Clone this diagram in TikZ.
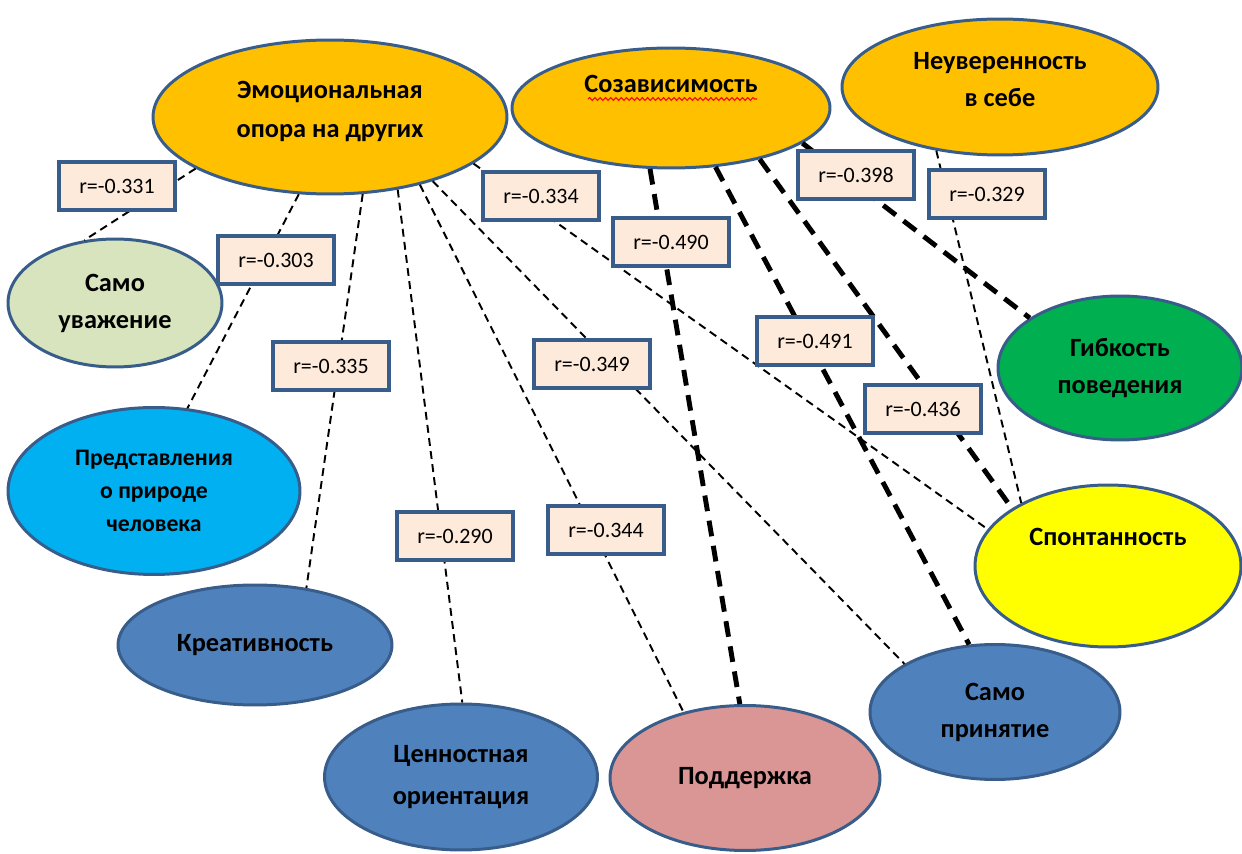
\documentclass[tikz,border=0pt]{standalone}
\usepackage{fontspec}
\setmainfont{Carlito}
\usetikzlibrary{shapes.geometric,decorations.pathmorphing}
\definecolor{rim}{HTML}{385D8A}
\definecolor{gold}{HTML}{FFC000}
\definecolor{sage}{HTML}{D7E4BD}
\definecolor{sky}{HTML}{00B0F0}
\definecolor{steel}{HTML}{4F81BD}
\definecolor{rose}{HTML}{D99694}
\definecolor{lemon}{HTML}{FFFF00}
\definecolor{leaf}{HTML}{00B050}
\definecolor{peach}{HTML}{FDEADA}

\begin{document}
\begin{tikzpicture}[x=0.02cm,y=-0.02cm,
  oval/.style={ellipse,draw=rim,line width=1.7pt,inner sep=0pt,align=center,font=\bfseries\fontsize{15}{21}\selectfont},
  rbox/.style={draw=rim,line width=2.2pt,fill=peach,minimum width=2.32cm,minimum height=0.96cm,inner sep=0pt,font=\fontsize{12.5}{14}\selectfont},
  weak/.style={line width=1.1pt,dash pattern=on 4.5pt off 3pt},
  strong/.style={line width=2.8pt,dash pattern=on 9pt off 5.5pt}]
\useasboundingbox (0,0) rectangle (1242,854);
\node[oval,fill=gold,minimum width=7.08cm,minimum height=3.08cm,font=\bfseries\fontsize{15}{22.5}\selectfont] (emo) at (330,117) {Эмоциональная\\опора на других\\[-14pt]\mbox{}};
\node[oval,fill=gold,minimum width=6.36cm,minimum height=2.4cm] (codep) at (671,108) {Созависимость\\[6pt]\mbox{}};
\node[oval,fill=gold,minimum width=6.32cm,minimum height=2.72cm] (insec) at (1000,87) {Неуверенность\\в себе\\[-12pt]\mbox{}};
\node[oval,fill=sage,minimum width=4.28cm,minimum height=2.56cm] (selfest) at (115,303) {Само\\уважение};
\node[oval,fill=sky,minimum width=5.84cm,minimum height=3.34cm,font=\bfseries\fontsize{13.5}{19}\selectfont] (nature) at (154,491) {Представления\\о природе\\человека};
\node[oval,fill=steel,minimum width=5.48cm,minimum height=2.4cm] (creat) at (255,645) {Креативность};
\node[oval,fill=steel,minimum width=5.46cm,minimum height=2.92cm,font=\bfseries\fontsize{15}{24}\selectfont] (value) at (461,777) {Ценностная\\ориентация};
\node[oval,fill=rose,minimum width=5.4cm,minimum height=2.9cm] (support) at (745,778) {Поддержка};
\node[oval,fill=steel,minimum width=5cm,minimum height=2.7cm] (selfacc) at (995,712) {Само\\принятие};
\node[oval,fill=lemon,minimum width=5.32cm,minimum height=3.24cm] (spont) at (1108,566) {Спонтанность\\[12pt]\mbox{}};
\node[oval,fill=leaf,minimum width=4.88cm,minimum height=2.88cm] (flex) at (1120,368) {Гибкость\\поведения};
\draw[red,line width=0.6pt,decorate,decoration={snake,amplitude=0.8pt,segment length=3pt}] (588,99) -- (757,99);

\draw[weak] (emo.201) -- (selfest.116);
\draw[weak] (emo.248) -- (nature.68);
\draw[weak] (emo.293) -- (creat.48);
\draw[weak] (emo.313) -- (value.89);
\draw[weak] (emo.323) -- (support.133);
\draw[weak] (emo.328) -- (selfacc.152);
\draw[weak] (emo.342) -- (spont.163);
\draw[strong] (codep.251) -- (support.94);
\draw[strong] (codep.307) -- (selfacc.111);
\draw[strong] (codep.330) -- (spont.149);
\draw[strong] (codep.345) -- (flex.151);
\draw[weak] (insec.225) -- (spont.144);

\node[rbox] (r331) at (117,186) {r=-0.331};
\node[rbox] (r303) at (276,260) {r=-0.303};
\node[rbox] (r335) at (331,366) {r=-0.335};
\node[rbox] (r334) at (541,196) {r=-0.334};
\node[rbox] (r490) at (671,242) {r=-0.490};
\node[rbox] (r398) at (856,175) {r=-0.398};
\node[rbox] (r329) at (987,194) {r=-0.329};
\node[rbox] (r349) at (592,364) {r=-0.349};
\node[rbox] (r491) at (815,341) {r=-0.491};
\node[rbox] (r436) at (923,409) {r=-0.436};
\node[rbox] (r290) at (455,536) {r=-0.290};
\node[rbox] (r344) at (606,530) {r=-0.344};
\end{tikzpicture}
\end{document}
